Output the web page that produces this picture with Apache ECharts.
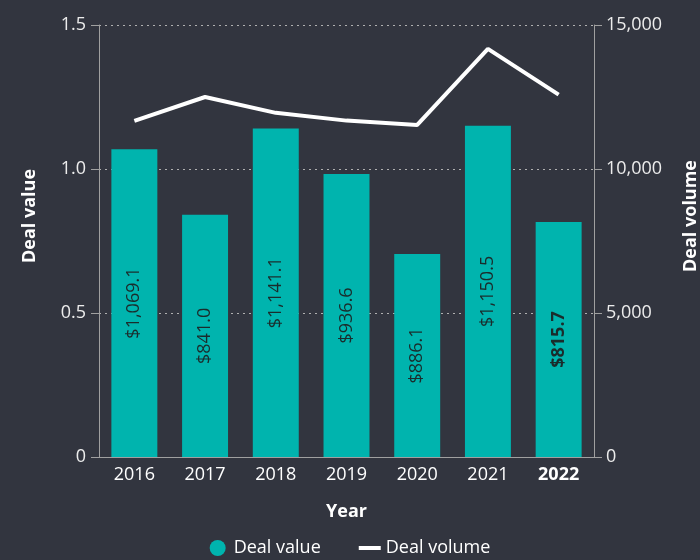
<!DOCTYPE html>
<html><head><meta charset="utf-8">
<script src="https://cdn.jsdelivr.net/npm/echarts@6/dist/echarts.min.js"></script>
<style>html,body{margin:0;padding:0;background:#32353f;}#c{width:700px;height:560px;}</style>
</head><body><div id="c"></div>
<script>
var years = ['2016','2017','2018','2019','2020','2021','2022'];
var dealValue = [1.069, 0.841, 1.141, 0.983, 0.705, 1.150, 0.816];
var dealLabels = ['$1,069.1','$841.0','$1,141.1','$936.6','$886.1','$1,150.5','$815.7'];
var dealVolume = [11670, 12500, 11950, 11680, 11530, 14170, 12580];
var leftTicks = [0, 0.5, 1.0, 1.5];
var rightTicks = [0, 5000, 10000, 15000];

var FONT = '"Open Sans", "Noto Sans", sans-serif';
var FS = 18;
var chart = echarts.init(document.getElementById('c'));
chart.setOption({
  backgroundColor: '#32353f',
  textStyle: {fontFamily: FONT},
  grid: {left: 99, right: 106, top: 25, bottom: 103, containLabel: false, outerBoundsMode: 'none'},
  legend: {
    bottom: -2, left: 'center', itemGap: 38, itemWidth: 22, itemHeight: 16,
    textStyle: {color: '#ffffff', fontSize: FS, fontFamily: FONT},
    data: [{name: 'Deal value', icon: 'circle'}, {name: 'Deal volume', icon: 'path://M0,0H22V4H0Z'}]
  },
  xAxis: {
    type: 'category', data: years,
    name: 'Year', nameLocation: 'middle', nameGap: 46,
    nameTextStyle: {color: '#ffffff', fontWeight: 'bold', fontSize: FS, fontFamily: FONT},
    axisLine: {lineStyle: {color: '#a0a0a0', width: 1}},
    axisTick: {show: false},
    axisLabel: {
      interval: 0,
      color: '#ffffff', fontSize: FS, margin: 9, fontFamily: FONT,
      formatter: function (v) { return v === '2022' ? '{b|' + v + '}' : v; },
      rich: {b: {fontWeight: 'bold', fontSize: FS, color: '#ffffff', fontFamily: FONT}}
    }
  },
  yAxis: [{
    type: 'value', min: 0, max: 1.5, interval: 0.5,
    name: 'Deal value', nameLocation: 'middle', nameGap: 60, nameRotate: 90,
    nameTextStyle: {color: '#ffffff', fontWeight: 'bold', fontSize: FS, fontFamily: FONT, padding: [0, 0, 0, 50]},
    axisLine: {show: true, lineStyle: {color: '#a0a0a0'}},
    axisTick: {show: true, length: 8, lineStyle: {color: '#a0a0a0'}},
    axisLabel: {color: '#ececec', fontSize: FS, margin: 13, fontFamily: FONT,
      formatter: function (v) { return v === 0 ? '0' : v.toFixed(1); }},
    splitLine: {show: true, lineStyle: {color: '#b0b0b0', type: [2, 4], width: 1}}
  }, {
    type: 'value', min: 0, max: 15000, interval: 5000,
    name: 'Deal volume', nameLocation: 'middle', nameGap: 88, nameRotate: 90,
    nameTextStyle: {color: '#ffffff', fontWeight: 'bold', fontSize: FS, fontFamily: FONT, padding: [0, 0, 0, 50]},
    axisLine: {show: true, lineStyle: {color: '#a0a0a0'}},
    axisTick: {show: true, length: 8, lineStyle: {color: '#a0a0a0'}},
    axisLabel: {color: '#ececec', fontSize: FS, margin: 12, fontFamily: FONT,
      formatter: function (v) { return v.toLocaleString('en-US'); }},
    splitLine: {show: false}
  }],
  series: [{
    name: 'Deal value', type: 'bar', data: dealValue, barWidth: '65%',
    itemStyle: {color: '#00b4ae'},
    label: {
      show: true, position: 'inside', rotate: 90, color: '#1a2c2c', fontSize: FS, fontFamily: FONT,
      formatter: function (p) {
        var t = dealLabels[p.dataIndex];
        return p.dataIndex === years.length - 1 ? '{b|' + t + '}' : t;
      },
      rich: {b: {fontWeight: 'bold', fontSize: FS, color: '#1a2c2c', fontFamily: FONT}}
    }
  }, {
    name: 'Deal volume', type: 'line', yAxisIndex: 1, data: dealVolume,
    symbol: 'none', showSymbol: false,
    lineStyle: {color: '#ffffff', width: 4},
    itemStyle: {color: '#ffffff'}
  }]
});
</script></body></html>
